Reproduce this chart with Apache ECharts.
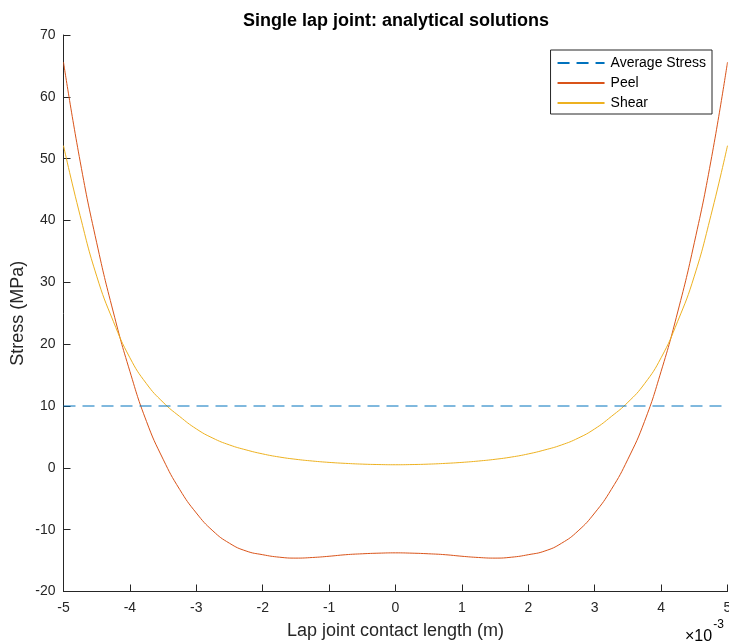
<!DOCTYPE html>
<html>
<head>
<meta charset="utf-8">
<script src="https://cdn.jsdelivr.net/npm/echarts@6/dist/echarts.min.js"></script>
<style>
html,body{margin:0;padding:0;background:#fff;}
#chart{width:729px;height:644px;}
</style>
</head>
<body>
<div id="chart"></div>
<script>
// x positions in units of 1e-3 m
var xPos = [-5,-4.75,-4.5,-4.25,-4,-3.75,-3.5,-3.25,-3,-2.75,-2.5,-2.25,-2,-1.75,-1.5,-1.25,-1,-0.75,-0.5,-0.25,0,
            0.25,0.5,0.75,1,1.25,1.5,1.75,2,2.25,2.5,2.75,3,3.25,3.5,3.75,4,4.25,4.5,4.75,5];
var peel = [65.6,49.6,36.4,25.2,15.6,7.5,1.4,-3.5,-7.3,-10.2,-12.2,-13.45,-14.05,-14.45,-14.6,-14.5,-14.3,-14.05,-13.9,-13.8,-13.75,
            -13.8,-13.9,-14.05,-14.3,-14.5,-14.6,-14.45,-14.05,-13.45,-12.2,-10.2,-7.3,-3.5,1.4,7.5,15.6,25.2,36.4,49.6,65.6];
var shear = [52.1,40.8,31.0,23.7,17.8,13.6,10.6,8.3,6.3,4.8,3.7,2.9,2.25,1.75,1.38,1.1,0.88,0.72,0.6,0.53,0.5,
             0.53,0.6,0.72,0.88,1.1,1.38,1.75,2.25,2.9,3.7,4.8,6.3,8.3,10.6,13.6,17.8,23.7,31.0,40.8,52.1];
var avgX = [-5,5];
var avgStress = [10,10];
var seriesNames = ['Average Stress','Peel','Shear'];

function pairs(xs, ys){ return xs.map(function(x,i){ return [x, ys[i]]; }); }

var font = 'Liberation Sans, Arial, Helvetica, sans-serif';
var chart = echarts.init(document.getElementById('chart'));
chart.setOption({
  animation:false,
  backgroundColor:'#ffffff',
  title:{
    text:'Single lap joint: analytical solutions',
    left:238, top:7,
    textStyle:{fontFamily:font,fontSize:18,fontWeight:'bold',color:'#000'}
  },
  grid:{left:63.5,right:1.5,top:35,bottom:52.5,containLabel:false,outerBoundsMode:'none'},
  legend:{
    data:seriesNames,
    orient:'vertical',
    right:17, top:50,
    backgroundColor:'#fff',
    borderColor:'#262626', borderWidth:1, borderRadius:0,
    padding:[6,6,4,6],
    itemWidth:47, itemHeight:14, itemGap:6,
    itemStyle:{opacity:0},
    textStyle:{fontFamily:font,fontSize:14,color:'#000',padding:[0,0,0,1]}
  },
  xAxis:{
    type:'value', min:-5, max:5, interval:1,
    axisLine:{show:true,onZero:false,lineStyle:{color:'#262626',width:1}},
    axisTick:{show:true,inside:true,length:7,lineStyle:{color:'#262626'}},
    axisLabel:{fontFamily:font,fontSize:14,color:'#262626',margin:10},
    splitLine:{show:false},
    name:'Lap joint contact length (m)', nameLocation:'middle', nameGap:31, nameMoveOverlap:false,
    nameTextStyle:{fontFamily:font,fontSize:18,color:'#262626'}
  },
  yAxis:{
    type:'value', min:-20, max:70, interval:10,
    axisLine:{show:true,onZero:false,lineStyle:{color:'#262626',width:1}},
    axisTick:{show:true,inside:true,length:7,lineStyle:{color:'#262626'}},
    axisLabel:{fontFamily:font,fontSize:14,color:'#262626',margin:8},
    splitLine:{show:false},
    name:'Stress (MPa)', nameLocation:'middle', nameGap:36, nameMoveOverlap:false,
    nameTextStyle:{fontFamily:font,fontSize:18,color:'#262626'}
  },
  graphic:[{
    type:'text', left:685, top:619,
    style:{
      text:'{a|×10}{b|-3}',
      rich:{
        a:{fontFamily:font,fontSize:16,color:'#262626',padding:[10,0,0,0]},
        b:{fontFamily:font,fontSize:12,color:'#262626',verticalAlign:'top',padding:[0,0,10,1]}
      }
    }
  }],
  series:[
    {name:seriesNames[0],type:'line',data:pairs(avgX,avgStress),symbol:'none',
     lineStyle:{color:'#0072BD',width:1,type:[12,7]},itemStyle:{color:'#0072BD'},z:3},
    {name:seriesNames[1],type:'line',data:pairs(xPos,peel),symbol:'none',smooth:true,
     lineStyle:{color:'#D95319',width:1},itemStyle:{color:'#D95319'},z:2},
    {name:seriesNames[2],type:'line',data:pairs(xPos,shear),symbol:'none',smooth:true,
     lineStyle:{color:'#EDB120',width:1},itemStyle:{color:'#EDB120'},z:2}
  ]
});
</script>
</body>
</html>
